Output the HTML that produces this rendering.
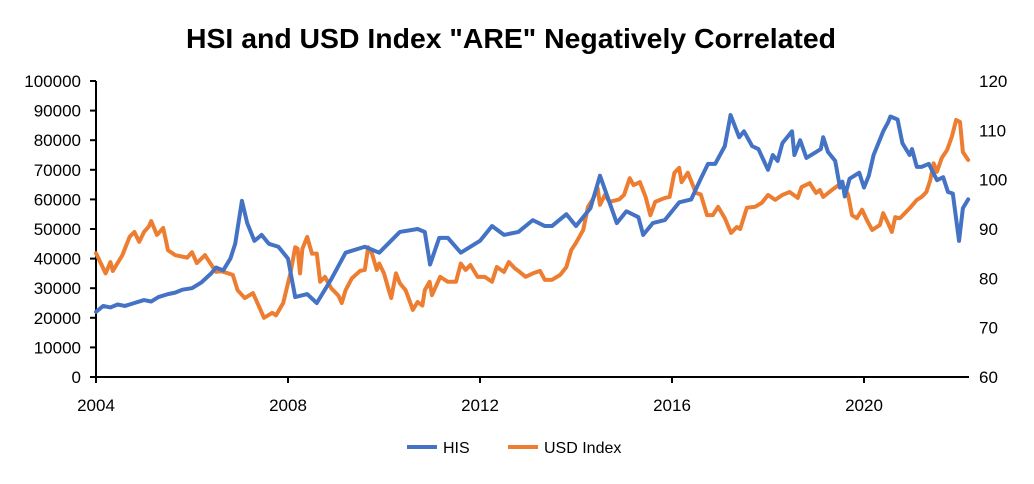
<!DOCTYPE html>
<html><head><meta charset="utf-8"><style>
body{margin:0;background:#fff;}
svg text{font-family:"Liberation Sans",Calibri,sans-serif;}
</style></head><body>
<svg id="chart" width="1034" height="479" xmlns="http://www.w3.org/2000/svg">
<rect width="1034" height="479" fill="#fff"/>
<text x="511" y="48" text-anchor="middle" font-size="28" font-weight="bold" fill="#000" textLength="650" lengthAdjust="spacingAndGlyphs">HSI and USD Index "ARE" Negatively Correlated</text>
<g id="axes"></g>
<g id="series"></g>
<g>
<line x1="407" y1="447" x2="437" y2="447" stroke="#4472C4" stroke-width="4"/>
<text x="443" y="453" font-size="16" fill="#000">HIS</text>
<line x1="508" y1="447" x2="538" y2="447" stroke="#ED7D31" stroke-width="4"/>
<text x="544" y="453" font-size="16" fill="#000">USD Index</text>
</g>
</svg>
<script>
const hsiDates=[2004.0,2004.15,2004.3,2004.45,2004.6,2004.8,2005.0,2005.15,2005.3,2005.5,2005.65,2005.8,2006.0,2006.2,2006.4,2006.5,2006.65,2006.8,2006.9,2007.04,2007.15,2007.3,2007.45,2007.6,2007.8,2008.0,2008.15,2008.4,2008.6,2008.9,2009.2,2009.6,2009.9,2010.33,2010.7,2010.85,2010.96,2011.15,2011.33,2011.6,2012.0,2012.25,2012.5,2012.8,2013.1,2013.35,2013.5,2013.8,2014.0,2014.3,2014.5,2014.85,2015.05,2015.3,2015.4,2015.6,2015.85,2016.15,2016.4,2016.6,2016.75,2016.9,2017.1,2017.22,2017.4,2017.5,2017.67,2017.8,2018.0,2018.1,2018.2,2018.3,2018.45,2018.5,2018.55,2018.67,2018.8,2019.0,2019.1,2019.15,2019.25,2019.4,2019.5,2019.55,2019.6,2019.7,2019.9,2020.0,2020.1,2020.2,2020.4,2020.5,2020.55,2020.7,2020.8,2020.95,2021.0,2021.1,2021.2,2021.35,2021.52,2021.65,2021.75,2021.85,2021.98,2022.06,2022.17];
const hsiValues=[22,24,23.5,24.5,24,25,26,25.5,27,28,28.5,29.5,30,32,35,37,36,40,45,59.5,52,46,48,45,44,40,27,28,25,33,42,44,42,49,50,49,38,47,47,42,46,51,48,49,53,51,51,55,51,57,68,52,56,54,48,52,53,59,60,67,72,72,78,88.5,81,83,78,77,70,75,73,79,82,83,75,80,74,76,77,81,76,73,64,66,61,67,69,64,68,75,83,86,88,87,79,75,77,71,71,72,66.5,67.5,62.5,62,46,57,60];
const usdDates=[2004.0,2004.2,2004.3,2004.35,2004.55,2004.7,2004.8,2004.9,2005.0,2005.1,2005.15,2005.27,2005.4,2005.5,2005.65,2005.9,2006.0,2006.1,2006.27,2006.5,2006.6,2006.85,2006.95,2007.1,2007.27,2007.4,2007.5,2007.67,2007.75,2007.9,2008.05,2008.15,2008.2,2008.25,2008.3,2008.4,2008.5,2008.6,2008.67,2008.77,2008.9,2009.05,2009.12,2009.2,2009.33,2009.5,2009.6,2009.67,2009.75,2009.85,2009.9,2010.0,2010.1,2010.15,2010.25,2010.33,2010.45,2010.55,2010.6,2010.7,2010.8,2010.85,2010.95,2011.0,2011.17,2011.33,2011.5,2011.6,2011.7,2011.8,2011.95,2012.1,2012.25,2012.35,2012.5,2012.6,2012.73,2012.8,2012.95,2013.1,2013.25,2013.35,2013.5,2013.67,2013.8,2013.9,2014.0,2014.15,2014.25,2014.35,2014.45,2014.5,2014.6,2014.7,2014.9,2015.0,2015.12,2015.2,2015.33,2015.45,2015.55,2015.65,2015.85,2015.95,2016.05,2016.15,2016.2,2016.33,2016.5,2016.6,2016.73,2016.85,2016.96,2017.1,2017.23,2017.35,2017.42,2017.56,2017.73,2017.87,2018.0,2018.15,2018.3,2018.45,2018.62,2018.7,2018.87,2019.0,2019.08,2019.15,2019.33,2019.5,2019.6,2019.67,2019.75,2019.85,2019.96,2020.06,2020.17,2020.33,2020.4,2020.5,2020.58,2020.65,2020.75,2020.85,2020.96,2021.1,2021.2,2021.3,2021.38,2021.45,2021.52,2021.62,2021.73,2021.83,2021.92,2022.0,2022.06,2022.17];
const usdValues=[85.1,81,83.3,81.5,84.7,88.4,89.4,87.4,89.4,90.5,91.6,88.8,90.2,85.7,84.7,84.2,85.3,83.1,84.7,81.3,81.5,80.7,77.6,76,77,74.2,72,73,72.5,75,81,86.3,86,81,86,88.4,85,85,79.3,80.3,78,76.5,75,77.6,80,81.5,81.7,86.3,85,81.7,83,81,77.6,76,81,79,77.6,75,73.6,75.2,74.5,77.6,79.3,76.6,80.3,79.3,79.3,83,81.7,82.7,80.3,80.3,79.3,82.3,81.3,83.3,82,81.5,80.3,81,81.5,79.7,79.7,80.7,82.3,85.7,87.2,89.8,94.5,96,98.3,94.9,96.9,95.5,96,96.9,100.3,98.9,99.5,96.5,92.8,95.5,96.3,96.5,101.4,102.4,99.5,101.4,97.3,97,92.8,92.8,94.5,92.2,89.2,90.4,90,94.3,94.5,95.3,96.9,95.9,96.9,97.5,96.3,98.5,99.3,97.3,97.9,96.5,97.9,99.1,98.3,96.9,92.8,92.2,93.9,91.8,89.8,90.8,93.2,91.2,89.4,92.4,92.2,93.2,94.3,95.9,96.5,97.5,99.9,103.3,101.6,104.4,106,108.7,112.1,111.7,105.6,104];
const leftTicks=[0,10000,20000,30000,40000,50000,60000,70000,80000,90000,100000];
const rightTicks=[60,70,80,90,100,110,120];
const xTicks=[2004,2008,2012,2016,2020];

const NS="http://www.w3.org/2000/svg";
const X0=96,X1=969,YB=377,YT=81;
const xs=y=>X0+(y-2004)*48;
const yl=v=>YB-(v/100000)*(YB-YT);
const yr=v=>YB-((v-60)/60)*(YB-YT);
function mk(tag,attrs,parent){const e=document.createElementNS(NS,tag);for(const k in attrs)e.setAttribute(k,attrs[k]);parent.appendChild(e);return e;}
const axes=document.getElementById('axes'),ser=document.getElementById('series');
let a=mk('line',{x1:X0,y1:YT,x2:X0,y2:YB,stroke:'#000','stroke-width':2},axes);


a=mk('line',{x1:X0,y1:YB,x2:X1,y2:YB,stroke:'#000','stroke-width':2},axes);


leftTicks.forEach(v=>{
 const t=mk('line',{x1:X0-6,y1:yl(v),x2:X0,y2:yl(v),stroke:'#000','stroke-width':2},axes);
 
 
 const l=mk('text',{x:81,y:yl(v)+6,'text-anchor':'end','font-size':17,fill:'#000'},axes);l.textContent=v;
 
 
});
rightTicks.forEach(v=>{
 const l=mk('text',{x:979,y:yr(v)+6,'font-size':17,fill:'#000'},axes);l.textContent=v;
 
 
});
xTicks.forEach(v=>{
 const t=mk('line',{x1:xs(v),y1:YB,x2:xs(v),y2:YB+6,stroke:'#000','stroke-width':2},axes);
 
 
 const l=mk('text',{x:xs(v),y:411,'text-anchor':'middle','font-size':17,fill:'#000'},axes);l.textContent=v;
 
 
});
let p=mk('polyline',{points:usdDates.map((d,i)=>xs(d)+','+yr(usdValues[i])).join(' '),fill:'none',stroke:'#ED7D31','stroke-width':4,'stroke-linejoin':'round','stroke-linecap':'round'},ser);


p=mk('polyline',{points:hsiDates.map((d,i)=>xs(d)+','+yl(hsiValues[i]*1000)).join(' '),fill:'none',stroke:'#4472C4','stroke-width':4,'stroke-linejoin':'round','stroke-linecap':'round'},ser);


</script>
</body></html>
